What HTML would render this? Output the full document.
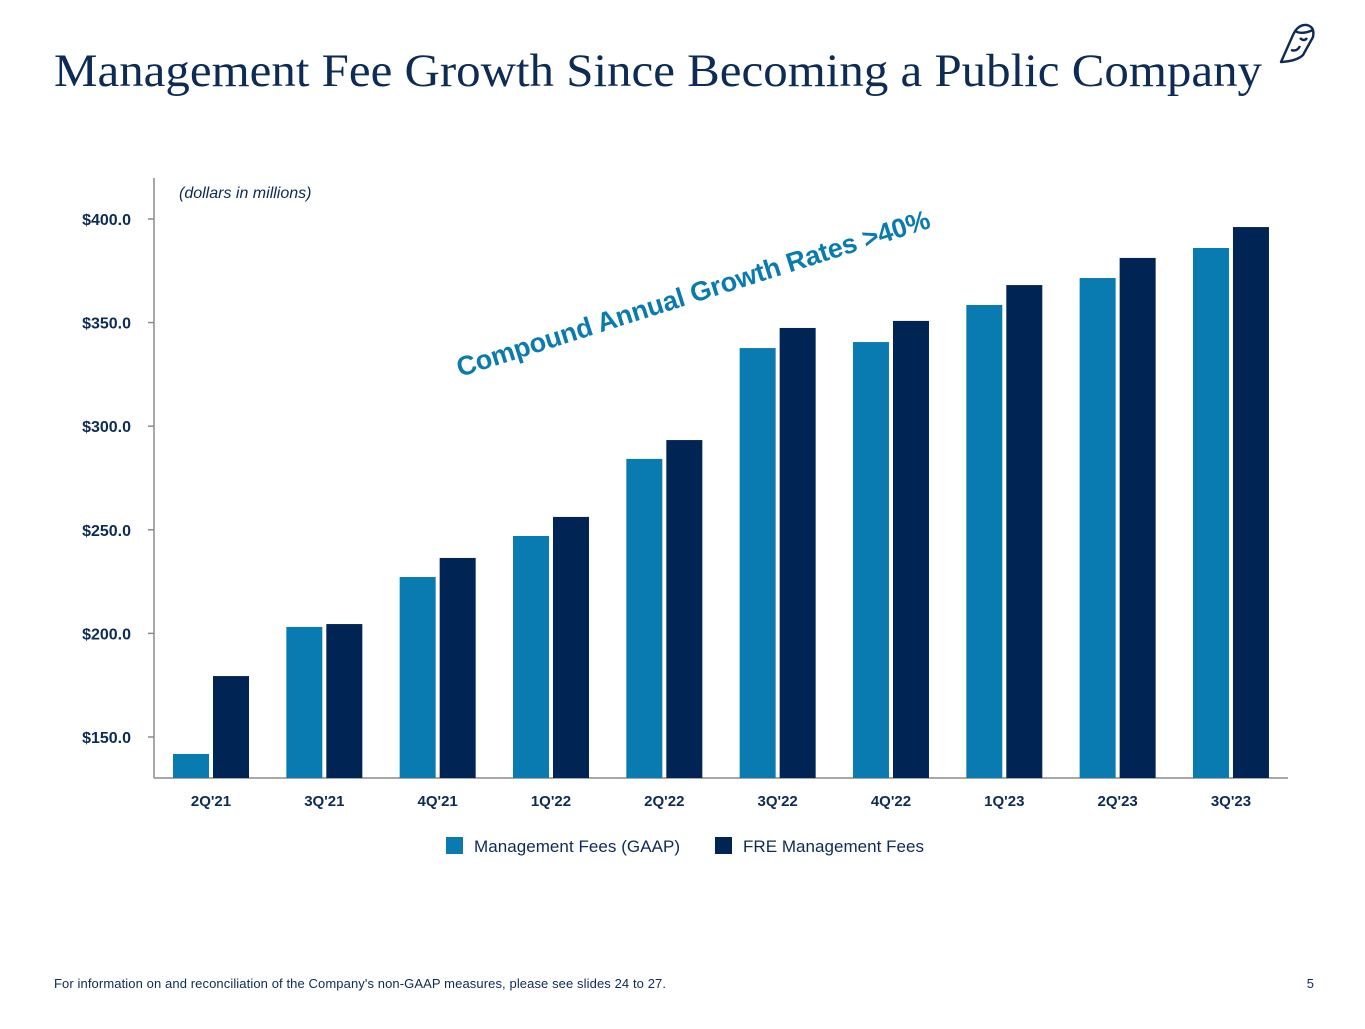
<!DOCTYPE html>
<html><head><meta charset="utf-8"><style>
body{margin:0;width:1365px;height:1024px;background:#fff;overflow:hidden;font-family:"Liberation Sans",Arial,sans-serif}
</style></head><body>
<svg width="1365" height="1024" viewBox="0 0 1365 1024">
<text x="54" y="86" font-family="'Liberation Serif',serif" font-size="47" fill="#0c2b55" textLength="1208" lengthAdjust="spacingAndGlyphs">Management Fee Growth Since Becoming a Public Company</text>
<g fill="none" stroke="#0c2b55" stroke-width="2.4" stroke-linejoin="round">
<path d="M1281 62 L1293 35 Q1298 24 1307 25 Q1315 27 1313 37 L1303 55 Q1297 61 1281 62 Z"/>
<path d="M1295 31 Q1302 35 1313 30"/><path d="M1300 38 Q1304 42 1307 38"/><path d="M1291 50 Q1297 52 1300 46"/>
</g>
<text x="179" y="198" font-size="16" font-style="italic" fill="#0c2b55">(dollars in millions)</text>
<g id="axes"></g>
<g id="bars"></g>
<text x="0" y="0" font-size="27" font-weight="bold" fill="#0a7bb0" letter-spacing="1" transform="translate(460,377) rotate(-17.6)" textLength="496">Compound Annual Growth Rates &gt;40%</text>
<g>
<rect x="446" y="837" width="17" height="17" fill="#0a7bb0"/>
<text x="474" y="852" font-size="17" fill="#0c2b55" textLength="206">Management Fees (GAAP)</text>
<rect x="715" y="837" width="17" height="17" fill="#002554"/>
<text x="743" y="852" font-size="17" fill="#0c2b55" textLength="181">FRE Management Fees</text>
</g>
<text x="54" y="988" font-size="13" fill="#0c2b55" textLength="612">For information on and reconciliation of the Company's non-GAAP measures, please see slides 24 to 27.</text>
<text x="1314" y="988" font-size="13" fill="#0c2b55" text-anchor="end">5</text>
</svg>
<script>
const categories=["2Q'21","3Q'21","4Q'21","1Q'22","2Q'22","3Q'22","4Q'22","1Q'23","2Q'23","3Q'23"];
const gaapFees=[141.8,203.1,227.2,247.0,284.2,337.7,340.6,358.5,371.5,386.0];
const freFees=[179.4,204.5,236.4,256.2,293.3,347.4,350.8,368.1,381.2,396.1];
const yTicks=[150,200,250,300,350,400];
const yTickLabels=["$150.0","$200.0","$250.0","$300.0","$350.0","$400.0"];
const NS="http://www.w3.org/2000/svg";
const yMin=130.2,pxPer=2.072,baseY=778,x0=154,x1=1288,firstC=211,step=113.33;
const y=v=>baseY-(v-yMin)*pxPer;
const xc=i=>firstC+i*step;
function mk(tag,attrs,parent,txt){const e=document.createElementNS(NS,tag);for(const k in attrs)e.setAttribute(k,attrs[k]);if(txt!=null)e.textContent=txt;parent.appendChild(e);return e;}
const ax=document.getElementById('axes'),bg=document.getElementById('bars');
let e=mk('line',{x1:x0,y1:178,x2:x0,y2:baseY,stroke:'#8c8c8c','stroke-width':1.5},ax);


e=mk('line',{x1:x0,y1:baseY,x2:x1,y2:baseY,stroke:'#8c8c8c','stroke-width':1.5},ax);


yTicks.forEach((t,i)=>{
 const tk=mk('line',{x1:x0-6,y1:y(t),x2:x0,y2:y(t),stroke:'#8c8c8c','stroke-width':1.5},ax);
 
 
 const l=mk('text',{x:131,y:y(t)+6,'font-size':16,'font-weight':'bold',fill:'#0c2b55','text-anchor':'end'},ax,yTickLabels[i]);
 
 
});
categories.forEach((c,i)=>{
 const cx=xc(i);
 const a=mk('rect',{x:cx-38,y:y(gaapFees[i]),width:36,height:baseY-y(gaapFees[i]),fill:'#0a7bb0'},bg);
 
 
 const b=mk('rect',{x:cx+2,y:y(freFees[i]),width:36,height:baseY-y(freFees[i]),fill:'#002554'},bg);
 
 
 const l=mk('text',{x:cx,y:806,'font-size':15,'font-weight':'bold',fill:'#0c2b55','text-anchor':'middle'},ax,c);
 
 
});
</script>
</body></html>
